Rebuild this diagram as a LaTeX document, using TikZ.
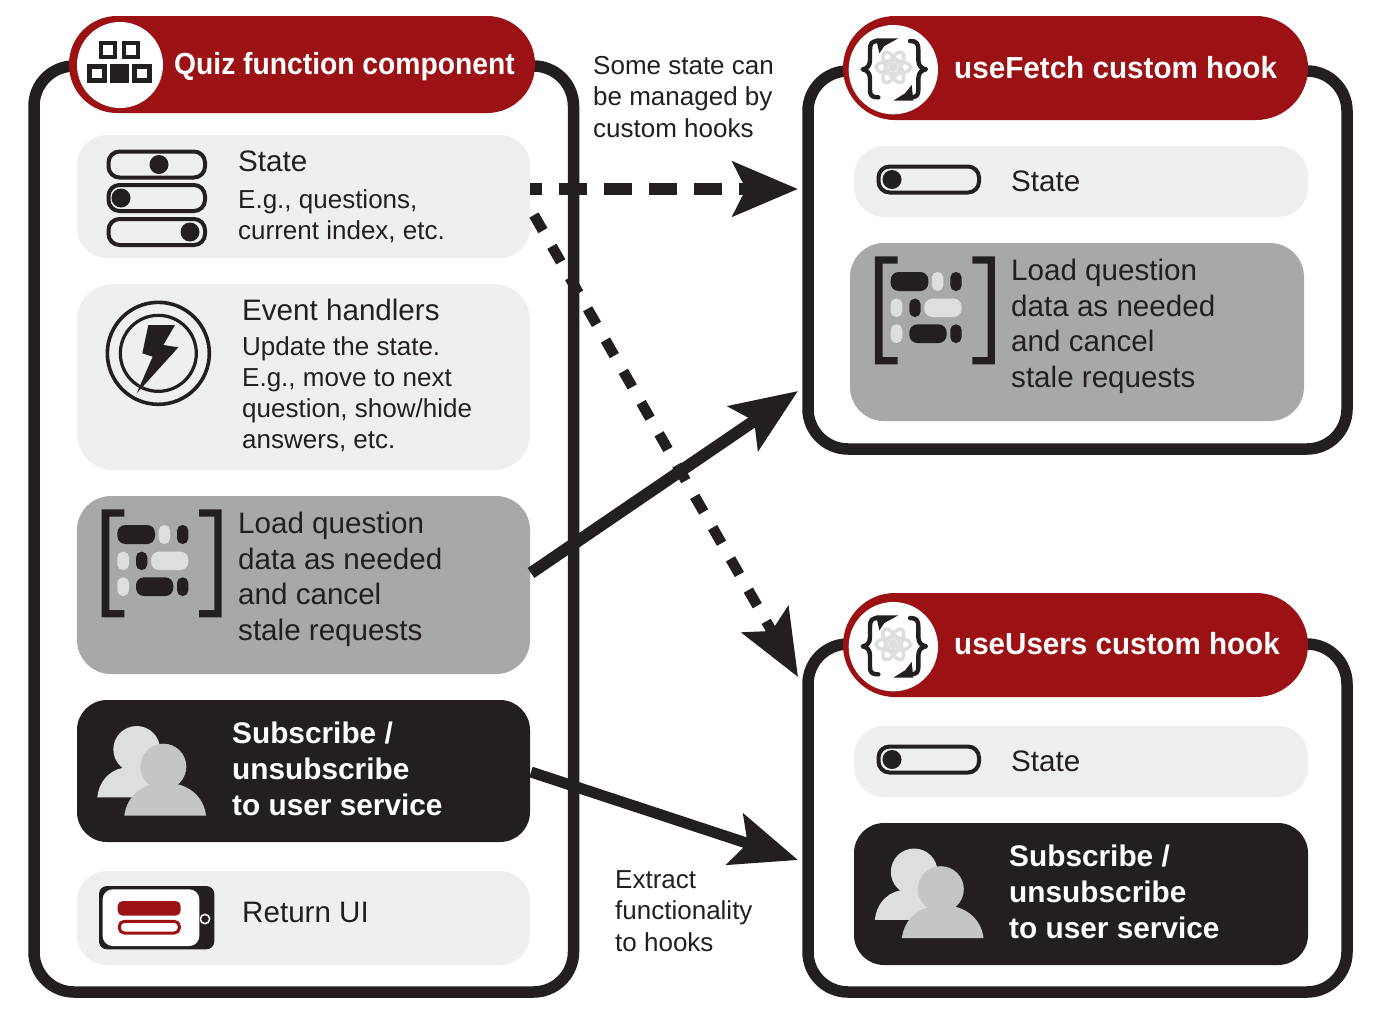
\documentclass[tikz,border=0pt]{standalone}
\usepackage{fontspec}
\setmainfont{Liberation Sans}
\usetikzlibrary{arrows.meta,calc}
\definecolor{ink}{HTML}{231F20}
\definecolor{hookred}{HTML}{9B1114}
\definecolor{lightp}{HTML}{EEEFF1}
\definecolor{grayp}{HTML}{A7A9A9}
\definecolor{iconl}{HTML}{DDDFDF}
\definecolor{iconm}{HTML}{C4C6C5}
\tikzset{
  outerbox/.style={draw=ink,line width=11.5pt,fill=white,rounded corners=40pt},
  panel/.style={rounded corners=#1,inner sep=0pt,outer sep=0pt},
  lightpanel/.style={panel=30pt,fill=lightp},
  graypanel/.style={panel=34pt,fill=grayp},
  darkpanel/.style={panel=30pt,fill=ink},
  header/.style={fill=hookred,rounded corners=48pt},
  body/.style={anchor=base west,inner sep=0pt,align=left,text=ink,font=\fontsize{26}{31}\selectfont},
  bigbody/.style={anchor=base west,inner sep=0pt,align=left,text=ink,font=\fontsize{29.6}{35.5}\selectfont},
  subs/.style={anchor=base west,inner sep=0pt,align=left,text=white,font=\bfseries\fontsize{29.8}{35.7}\selectfont},
  title/.style={anchor=base west,inner sep=0pt,text=white,font=\bfseries\fontsize{30.5}{36}\selectfont},
  note/.style={anchor=base west,inner sep=0pt,align=left,text=ink,font=\fontsize{26}{31.5}\selectfont},
  zoomed/.style={shift={#1},x=.33333pt,y=-.33333pt},
  conn/.style={draw=ink,line width=11pt},
}
\newcommand{\toggleicon}[5]{% x1,y1,x2,y2,knobx
  \draw[ink,line width=4pt,rounded corners=11pt] (#1,#2) rectangle (#3,#4);
  \fill[ink] (#5,{(#2+#4)/2}) circle (9.5pt);
}
\newcommand{\loadicon}[1]{%
  \begin{scope}[zoomed={#1}]
    \fill[ink] (133,658) -- (65,658) -- (65,982) -- (133,982) -- (133,960) -- (88,960) -- (88,680) -- (133,680) -- cycle;
    \fill[ink] (357,658) -- (425,658) -- (425,982) -- (357,982) -- (357,960) -- (403,960) -- (403,680) -- (357,680) -- cycle;
    \fill[ink,rounded corners=8pt] (112,705) rectangle (225,762);
    \fill[iconl,rounded corners=5.5pt] (236,705) rectangle (270,762);
    \fill[ink,rounded corners=5.5pt] (291,705) rectangle (325,762);
    \fill[iconl,rounded corners=5.5pt] (112,785) rectangle (147,840);
    \fill[ink,rounded corners=5.5pt] (168,785) rectangle (202,840);
    \fill[iconl,rounded corners=8pt] (213,785) rectangle (325,840);
    \fill[iconl,rounded corners=5.5pt] (112,862) rectangle (147,918);
    \fill[ink,rounded corners=8pt] (168,862) rectangle (280,918);
    \fill[ink,rounded corners=5.5pt] (291,862) rectangle (325,918);
  \end{scope}
}
\newcommand{\usersicon}[1]{%
  \begin{scope}[zoomed={#1}]
    \fill[iconl] (170,118) circle [radius=70];
    \fill[iconl] (52,262) .. controls (58,205) and (100,172) .. (145,172) -- (220,172) .. controls (270,180) and (290,225) .. (296,262) -- cycle;
    \fill[iconm] (250,170) circle [radius=69];
    \fill[iconm] (133,317) .. controls (140,260) and (185,218) .. (255,218) .. controls (325,218) and (372,260) .. (378,317) -- cycle;
  \end{scope}
}
\newcommand{\hookicon}[1]{%
  \begin{scope}[zoomed={#1}]
    \fill[white] (190,179) circle [radius=134];
    \foreach \a in {0,60,120}
      \draw[iconl,line width=3.5pt,rotate around={\a:(190,172)}] (190,172) ellipse [x radius=52,y radius=20];
    \fill[iconl] (190,172) circle [radius=15];
    \draw[ink,line width=4.4pt,line cap=round,line join=round] (145,93) .. controls (125,93) and (120,100) .. (120,120) -- (120,150) .. controls (120,168) and (110,176) .. (98,178) .. controls (110,180) and (120,188) .. (120,206) -- (120,240) .. controls (120,256) and (125,262) .. (145,262);
    \draw[ink,line width=4.4pt,line cap=round,line join=round] (240,93) .. controls (260,93) and (265,100) .. (265,120) -- (265,150) .. controls (265,168) and (275,176) .. (288,178) .. controls (275,180) and (265,188) .. (265,206) -- (265,240) .. controls (265,256) and (260,262) .. (240,262);
    \fill[ink] (138,85) -- (205,85) -- (163,108) -- (148,130) -- cycle;
    \fill[ink] (190,272) -- (250,272) -- (245,225) -- (225,250) -- cycle;
  \end{scope}
}
\begin{document}
\begin{tikzpicture}[x=1pt,y=-1pt]
\useasboundingbox[fill=white] (0,0) rectangle (1383,1018);

% outer frames
\draw[outerbox] (34,66) rectangle (573.5,992);
\draw[outerbox] (808,71) rectangle (1347,449);
\draw[outerbox] (808,644) rectangle (1347,992);
\coordinate (fetchStateIn) at (798,189);
\coordinate (fetchLoadIn) at (798,391);
\coordinate (usersStateIn) at (798,677);
\coordinate (usersSubIn) at (798,860);

% headers
\fill[header] (69,16) rectangle (535,113);
\fill[header,rounded corners=52pt] (843,16) rectangle (1308,120);
\fill[header,rounded corners=52pt] (843,593) rectangle (1308,697);
\fill[white] (120,65) circle (43pt);
\node[title] (quizTitle) at (174,74) {\scalebox{.926}[1]{Quiz function component}};
\node[title] (fetchTitle) at (954,78) {\scalebox{.972}[1]{useFetch custom hook}};
\node[title] (usersTitle) at (954,654) {\scalebox{.97}[1]{useUsers custom hook}};

% quiz icon
\begin{scope}[zoomed={(20,0)}]
  \fill[ink] (237,123) rectangle (292,178);
  \fill[ink] (305,123) rectangle (360,178);
  \fill[ink] (201,192) rectangle (260,248);
  \fill[ink] (270,192) rectangle (326,248);
  \fill[ink] (337,192) rectangle (396,248);
  \fill[white] (250,136) rectangle (279,165);
  \fill[white] (318,136) rectangle (347,165);
  \fill[white] (216,206) rectangle (245,235);
  \fill[white] (351,206) rectangle (381,235);
\end{scope}
\hookicon{(830,10)}
\hookicon{(830,587)}

% left panels
\path[lightpanel] (77,135) rectangle (530,258);
\path[lightpanel,rounded corners=36pt] (77,284) rectangle (530,470);
\path[graypanel] (77,496) rectangle (530,674);
\path[darkpanel] (77,700) rectangle (530,842);
\path[lightpanel] (77,871) rectangle (530,965);
\coordinate (quizStateOut) at (530,189);
\coordinate (quizStateOutB) at (534,215);
\coordinate (quizLoadOut) at (531,573);
\coordinate (quizSubOut) at (531,772);

% right panels
\path[lightpanel] (854,146) rectangle (1308,217);
\path[graypanel] (850,243) rectangle (1304,421);
\path[lightpanel] (854,726) rectangle (1308,797);
\path[darkpanel] (854,823) rectangle (1308,965);

% toggles
\toggleicon{108.5}{151.5}{205}{177.5}{159}
\toggleicon{108.5}{185}{205}{211}{121}
\toggleicon{108.5}{219}{205}{245}{190}
\toggleicon{878.5}{166.5}{979}{192.5}{892}
\toggleicon{878.5}{746.5}{979}{772.5}{892}

% lightning icon
\begin{scope}[zoomed={(80,290)}]
  \draw[ink,line width=3.6pt] (235,190) circle [radius=153];
  \draw[ink,line width=3.2pt] (235,190) circle [radius=114];
  \fill[ink] (205,105) -- (285,105) -- (250,165) -- (295,172) -- (170,310) -- (218,200) -- (187,190) -- cycle;
\end{scope}

\loadicon{(80,290)}
\loadicon{(853.3,37)}
\usersicon{(80,710)}
\usersicon{(857.5,832.5)}

% phone icon
\begin{scope}[zoomed={(80,710)}]
  \fill[ink,rounded corners=8pt] (57,528) rectangle (403,718);
  \fill[white,rounded corners=10pt] (68,538) rectangle (358,708);
  \fill[hookred,rounded corners=5pt] (113,573) rectangle (302,617);
  \draw[hookred,line width=3pt,rounded corners=5pt] (118,634) rectangle (298,669);
  \fill[ink] (375,627) circle [radius=17];
  \draw[white,line width=1.5pt] (375,627) circle [radius=14];
\end{scope}

% texts (a multi-line node's base anchor is its last line)
\node[bigbody] (stateHead) at (238,171) {State};
\node[body] (stateBody) at (238,239) {E.g., questions,\\current index, etc.};
\node[bigbody] (eventHead) at (242,320) {Event handlers};
\node[body] (eventBody) at (242,448) {Update the state.\\E.g., move to next\\question, show/hide\\answers, etc.};
\node[bigbody] (loadText) at (238,640) {Load question\\data as needed\\and cancel\\stale requests};
\node[subs] (subText) at (232,815) {Subscribe /\\unsubscribe\\to user service};
\node[bigbody] (returnText) at (242,922) {Return UI};
\node[bigbody] (fetchState) at (1011,191) {State};
\node[bigbody] (fetchLoad) at (1011,387) {Load question\\data as needed\\and cancel\\stale requests};
\node[bigbody] (usersState) at (1011,771) {State};
\node[subs] (usersSub) at (1009,938) {Subscribe /\\unsubscribe\\to user service};
\node[note] (noteTop) at (593,137) {Some state can\\be managed by\\custom hooks};
\node[note] (noteBottom) at (615,951) {Extract\\functionality\\to hooks};

% connectors
\draw[conn,line width=12pt,dash pattern=on 28pt off 17pt,dash phase=16pt,-{Stealth[length=65pt,width=54pt,inset=13pt]}] (quizStateOut) -- (fetchStateIn);
\draw[conn,line width=10.5pt,dash pattern=on 18pt off 18pt,-{Stealth[length=66pt,width=53pt,inset=13pt]}] (quizStateOutB) -- (usersStateIn);
\draw[conn,line width=12pt,-{Stealth[length=66pt,width=53pt,inset=13pt]}] (quizLoadOut) -- (fetchLoadIn);
\draw[conn,line width=11pt,-{Stealth[length=66pt,width=53pt,inset=13pt]}] (quizSubOut) -- (usersSubIn);
\end{tikzpicture}
\end{document}
